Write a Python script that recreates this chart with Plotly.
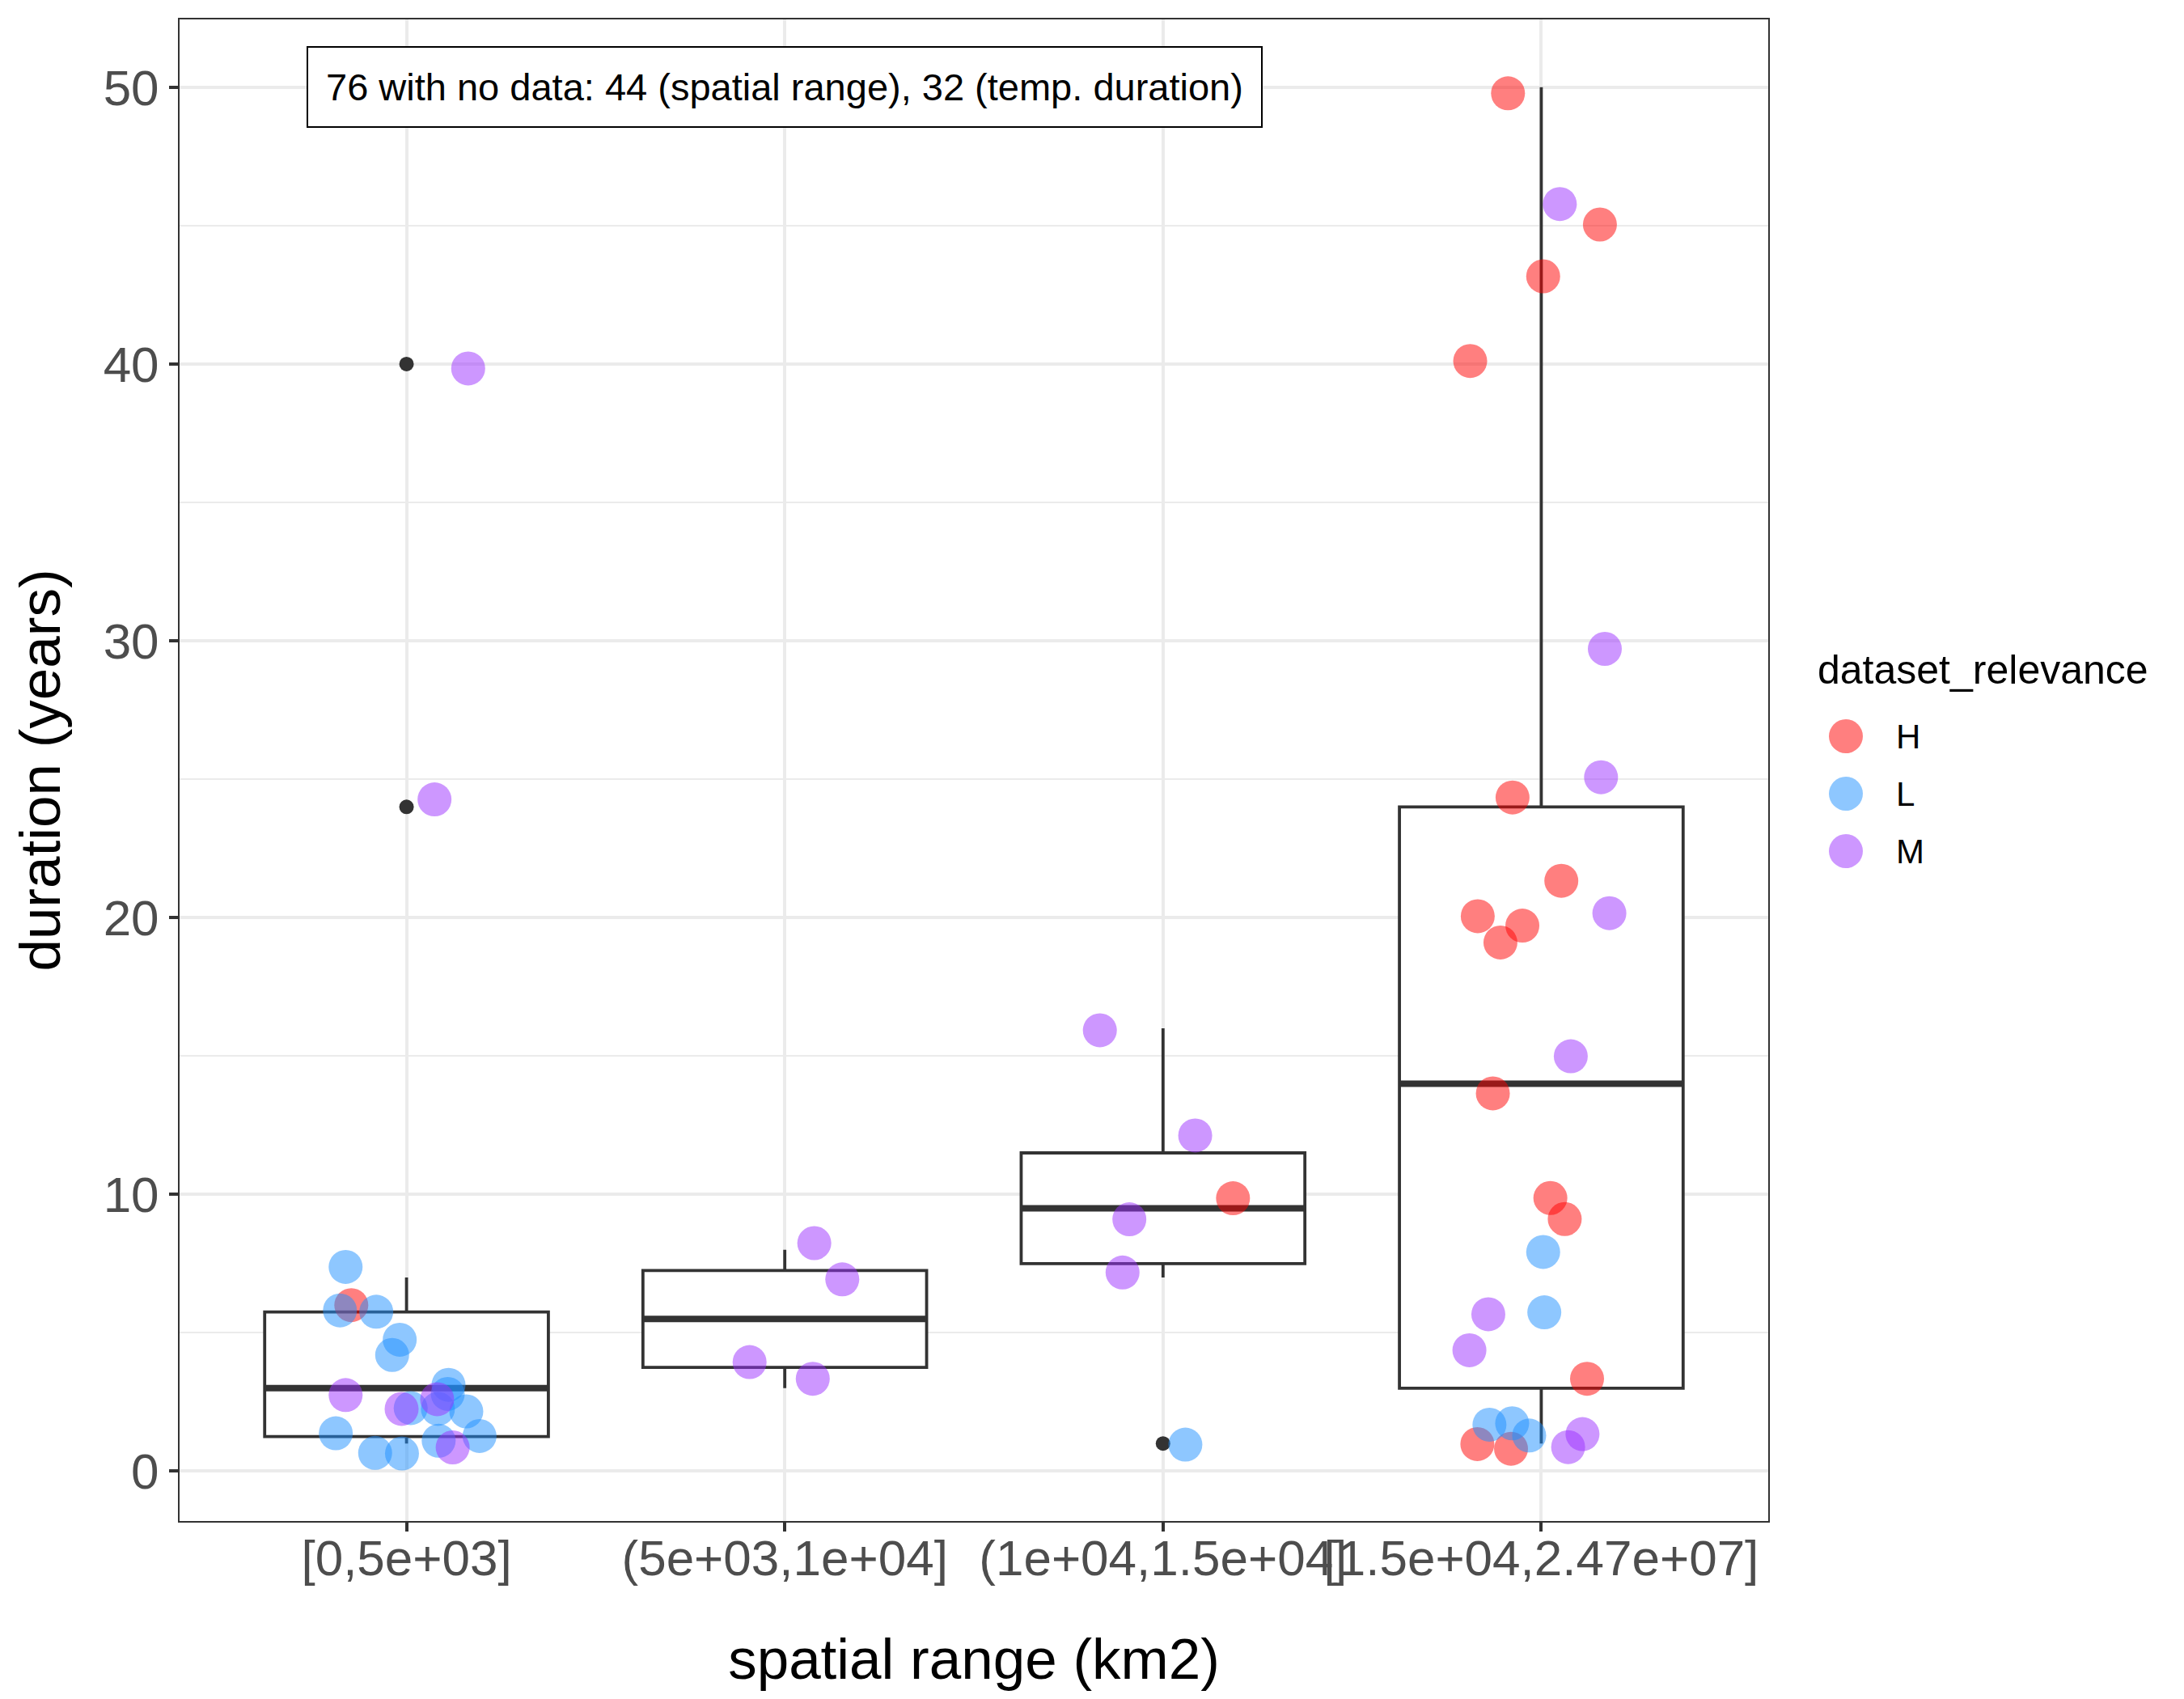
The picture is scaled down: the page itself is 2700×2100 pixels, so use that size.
import plotly.graph_objects as go

# ---------------- data ----------------
categories = ["[0,5e+03]", "(5e+03,1e+04]", "(1e+04,1.5e+04]", "[1.5e+04,2.47e+07]"]

# box statistics per category (years)
box_lowerfence = [1, 3, 7, 1]
box_q1 = [1.25, 3.75, 7.5, 3]
box_median = [3, 5.5, 9.5, 14]
box_q3 = [5.75, 7.25, 11.5, 24]
box_upperfence = [7, 8, 16, 50]

# outliers (category index, value)
outlier_cat = [0, 0, 2]
outlier_val = [40, 24, 1]

# jittered points per relevance: category index, horizontal jitter, duration
h_cat = [0, 2, 3, 3, 3, 3, 3, 3, 3, 3, 3, 3, 3, 3, 3, 3, 3]
h_jit = [-0.146, 0.185, -0.088, 0.155, 0.005, -0.188, -0.076, 0.053, -0.168, -0.050,
         -0.108, -0.128, 0.024, 0.062, 0.121, -0.169, -0.080]
h_dur = [6.0, 9.86, 49.78, 45.04, 43.17, 40.11, 24.34, 21.33, 20.05, 19.71,
         19.10, 13.65, 9.87, 9.11, 3.34, 0.98, 0.81]

l_cat = [0] * 15 + [2] + [3] * 5
l_jit = [-0.161, -0.176, -0.080, -0.018, -0.038, 0.011, 0.111, 0.109, 0.083, 0.158,
         -0.187, -0.083, -0.012, 0.085, 0.193, 0.059, 0.005, 0.008, -0.137, -0.077, -0.032]
l_dur = [7.38, 5.81, 5.76, 4.75, 4.20, 2.28, 3.12, 2.79, 2.25, 2.16,
         1.37, 0.66, 0.64, 1.10, 1.27, 0.96, 7.92, 5.74, 1.68, 1.73, 1.29]

m_cat = [0] * 6 + [1] * 4 + [2] * 4 + [3] * 9
m_jit = [-0.161, -0.013, 0.081, 0.122, 0.163, 0.074,
         0.078, 0.152, -0.093, 0.074,
         -0.167, 0.085, -0.089, -0.107,
         0.049, 0.168, 0.158, 0.180, 0.078, -0.140, -0.190, 0.071, 0.109]
m_dur = [2.75, 2.25, 2.60, 0.86, 39.84, 24.27,
         8.24, 6.93, 3.94, 3.34,
         15.93, 12.13, 9.10, 7.18,
         45.78, 29.71, 25.07, 20.16, 14.99, 5.67, 4.37, 0.87, 1.34]

relevance_names = ["H", "L", "M"]
relevance_colors = ["rgba(255,0,0,0.5)", "rgba(30,144,255,0.5)", "rgba(155,48,255,0.5)"]
legend_title = "dataset_relevance"

annotation_text = "76 with no data: 44 (spatial range), 32 (temp. duration)"

# ---------------- figure ----------------
FONT = "Liberation Sans, Arial, Helvetica, sans-serif"
BOX_W = 0.75
LINE_C = "#333333"
W, H = 2700, 2100
ML, MT, MB = 222, 24, 220
PANEL_R = 2186                      # right edge of the main panel (px)
PLOT_W = W - ML
MAIN_DOM = (PANEL_R - ML) / PLOT_W
LEG_DOM0 = 0.8

fig = go.Figure()

cat_pos = list(range(len(categories)))

fig.add_trace(go.Box(
    x=cat_pos, q1=box_q1, median=box_median, q3=box_q3,
    lowerfence=box_lowerfence, upperfence=box_upperfence,
    width=BOX_W, whiskerwidth=0, boxpoints=False,
    fillcolor="white", line=dict(color=LINE_C, width=3.8),
    showlegend=False, hoverinfo="skip",
))

# thicker median lines (ggplot fatten)
mx, my = [], []
for p, med in zip(cat_pos, box_median):
    mx += [p - BOX_W / 2, p + BOX_W / 2, None]
    my += [med, med, None]
fig.add_trace(go.Scatter(x=mx, y=my, mode="lines", line=dict(color=LINE_C, width=8),
                         showlegend=False, hoverinfo="skip"))

fig.add_trace(go.Scatter(x=outlier_cat, y=outlier_val, mode="markers",
                         marker=dict(color=LINE_C, size=18), showlegend=False,
                         hoverinfo="skip"))

series = [(h_cat, h_jit, h_dur), (l_cat, l_jit, l_dur), (m_cat, m_jit, m_dur)]
for name, col, (cats, jit, dur) in zip(relevance_names, relevance_colors, series):
    fig.add_trace(go.Scatter(
        x=[c + j for c, j in zip(cats, jit)], y=dur, mode="markers", name=name,
        marker=dict(color=col, size=42, line=dict(width=0)),
        showlegend=False,
    ))

# ---- legend drawn on its own hidden axes (ggplot-sized keys) ----
# x2/y2 units are pixels relative to the first key centre; keys step 71 px downward
leg_idx = list(range(len(relevance_names)))
fig.add_trace(go.Scatter(
    x=[0] * len(relevance_names), y=[-i for i in leg_idx], mode="markers",
    marker=dict(color=relevance_colors, size=42, line=dict(width=0)),
    xaxis="x2", yaxis="y2", showlegend=False, hoverinfo="skip",
))
for i, name in zip(leg_idx, relevance_names):
    fig.add_annotation(x=60, y=-i, xref="x2", yref="y2", text=name, showarrow=False,
                       xanchor="left", yanchor="middle",
                       font=dict(family=FONT, size=42, color="black"))
fig.add_annotation(x=-37, y=1.15, xref="x2", yref="y2", text=legend_title, showarrow=False,
                   xanchor="left", yanchor="middle",
                   font=dict(family=FONT, size=50, color="black"))

fig.add_annotation(
    x=1, y=50, xref="x", yref="y", text=annotation_text, showarrow=False,
    font=dict(family=FONT, size=47, color="black"),
    bgcolor="white", bordercolor="black", borderwidth=2, borderpad=22,
)

axis_common = dict(
    showline=True, linecolor=LINE_C, linewidth=2, mirror=True,
    ticks="outside", ticklen=11, tickwidth=3.5, tickcolor=LINE_C,
    tickfont=dict(family=FONT, size=62, color="#4D4D4D"),
    gridcolor="#EBEBEB", gridwidth=3.5, zeroline=False, automargin=False,
)

KEY_X = 2282
KEY_Y0 = 910
STEP = 71
leg_left = ML + LEG_DOM0 * PLOT_W
fig.update_layout(
    width=W, height=H,
    margin=dict(l=ML, r=0, t=MT, b=MB),
    paper_bgcolor="white", plot_bgcolor="white",
    font=dict(family=FONT),
    showlegend=False,
    xaxis=dict(
        axis_common, domain=[0, MAIN_DOM], range=[-0.6, 3.6], tickvals=cat_pos,
        ticktext=categories, tickangle=0, ticklabelstandoff=-20,
        title=dict(text="spatial range (km2)", font=dict(family=FONT, size=71, color="black"),
                   standoff=66),
    ),
    yaxis=dict(
        axis_common, range=[-1.8, 52.45], tickvals=[0, 10, 20, 30, 40, 50],
        minor=dict(tickvals=[5, 15, 25, 35, 45], showgrid=True, gridcolor="#EBEBEB",
                   gridwidth=1.8, ticks=""),
        title=dict(text="duration (years)", font=dict(family=FONT, size=71, color="black"),
                   standoff=30),
    ),
    xaxis2=dict(domain=[LEG_DOM0, 1], range=[leg_left - KEY_X, W - KEY_X], visible=False,
                anchor="y2", fixedrange=True),
    yaxis2=dict(domain=[0, 1], range=[-(H - MB - KEY_Y0) / STEP, (KEY_Y0 - MT) / STEP],
                visible=False, anchor="x2", fixedrange=True),
)

fig.write_html("out.html", config={"displayModeBar": False},
               post_script="document.body.style.margin='0px';")
